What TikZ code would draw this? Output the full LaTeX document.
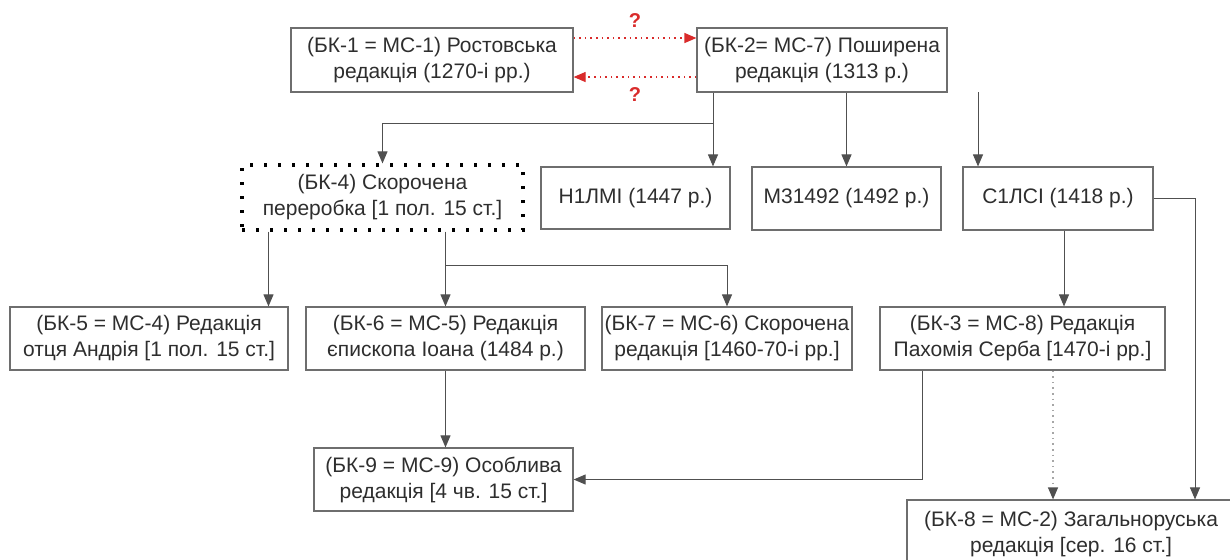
\documentclass[tikz,border=0pt]{standalone}
\usepackage{fontspec}
\setmainfont{Liberation Sans}
\usepackage{tikz}
\usetikzlibrary{arrows.meta,positioning,calc}
\definecolor{boxgrey}{HTML}{6E6E6E}
\definecolor{linegrey}{HTML}{505050}
\definecolor{txtgrey}{HTML}{2E2E2E}
\definecolor{askred}{HTML}{D92B2B}

\begin{document}
\begin{tikzpicture}[
  x=0.5pt, y=-0.5pt,
  redbox/.style={draw=boxgrey, line width=0.6pt, fill=white, align=center, inner sep=0pt,
                 text=txtgrey, font=\fontsize{10.5}{13}\selectfont},
  shortbox/.style={redbox, draw=black, line width=1.6pt, dash pattern=on 1.6pt off 5.4pt},
  arr/.style={-{Triangle[length=6pt, width=5pt]}, line width=0.5pt, draw=linegrey},
  doubtarr/.style={-{Triangle[length=6pt, width=5pt]}, line width=0.6pt, draw=askred,
                   dash pattern=on 0.8pt off 2pt},
  lostarr/.style={-{Triangle[length=6pt, width=5pt, color=linegrey]}, line width=0.6pt,
                  draw=gray!70, dash pattern=on 0.8pt off 2pt},
  askmark/.style={text=askred, font=\bfseries\fontsize{10}{12}\selectfont, inner sep=0pt}
]
  \useasboundingbox (0,0) rectangle (1230,559);

  % upper row
  \node[redbox, minimum width=141pt, minimum height=32pt] (bk1) at (432,60)
    {(БК-1 = МС-1) Ростовська\\редакція (1270-і рр.)};
  \node[redbox, minimum width=125pt, minimum height=32pt] (bk2) at (822,60)
    {(БК-2= МС-7) Поширена\\редакція (1313 р.)};

  % second row
  \node[shortbox, minimum width=140.5pt, minimum height=32.5pt] (bk4) at (382.5,197.5)
    {(БК-4) Скорочена\\переробка [1 пол. 15 ст.]};
  \node[redbox, minimum width=94.5pt, minimum height=31pt] (n1lmi) at (635.5,198) {Н1ЛМІ (1447 р.)};
  \node[redbox, minimum width=94.5pt, minimum height=31.5pt] (m31492) at (846.5,198.5) {М31492 (1492 р.)};
  \node[redbox, minimum width=95pt, minimum height=31.5pt] (s1lsi) at (1058,198.5) {С1ЛСІ (1418 р.)};

  % third row
  \node[redbox, minimum width=139pt, minimum height=31.5pt] (bk5) at (149,338.5)
    {(БК-5 = МС-4) Редакція\\отця Андрія [1 пол. 15 ст.]};
  \node[redbox, minimum width=139.5pt, minimum height=31.5pt] (bk6) at (445.5,338.5)
    {(БК-6 = МС-5) Редакція\\єпископа Іоана (1484 р.)};
  \node[redbox, minimum width=125pt, minimum height=31.5pt] (bk7) at (727,338.5)
    {(БК-7 = МС-6) Скорочена\\редакція [1460-70-і рр.]};
  \node[redbox, minimum width=142.5pt, minimum height=31.5pt] (bk3) at (1022.5,338.5)
    {(БК-3 = МС-8) Редакція\\Пахомія Серба [1470-і рр.]};

  % bottom
  \node[redbox, minimum width=129.5pt, minimum height=31.5pt] (bk9) at (443.5,479.5)
    {(БК-9 = МС-9) Особлива\\редакція [4 чв. 15 ст.]};
  \node[redbox, minimum width=164pt, minimum height=32pt, text depth=0pt] (bk8) at (1071,532)
    {(БК-8 = МС-2) Загальноруська\\редакція [сер. 16 ст.]};

  % bend points
  \coordinate (fork1) at (713,123);
  \coordinate (fork2) at (445.5,265);
  \coordinate (start2) at (978,92);

  % doubtful links
  \draw[doubtarr] ([yshift=11pt]bk1.east) -- node[askmark, above=5pt] {?} ([yshift=11pt]bk2.west);
  \draw[doubtarr] ([yshift=-8.5pt]bk2.west) -- node[askmark, below=5pt] {?} ([yshift=-8.5pt]bk1.east);

  % from БК-2
  \draw[arr] (bk2.south -| fork1) -- (n1lmi.north -| fork1);
  \draw[arr] (fork1) -| (bk4.north);
  \draw[arr] (bk2.south -| m31492.north) -- (m31492.north);
  \draw[arr] (start2) -- (start2 |- s1lsi.north);

  % from С1ЛСІ
  \draw[arr] ([xshift=3pt]s1lsi.south) -- ([xshift=3pt]s1lsi.south |- bk3.north);
  \draw[arr] (s1lsi.east) -| ([xshift=62pt]bk8.north);

  % from БК-4
  \draw[arr] ([xshift=59.75pt]bk5.north |- bk4.south) -- ([xshift=59.75pt]bk5.north);
  \draw[arr] (bk4.south -| bk6.north) -- (bk6.north);
  \draw[arr] (fork2) -| (bk7.north);

  % to БК-9 and БК-8
  \draw[arr] (bk6.south) -- (bk6.south |- bk9.north);
  \draw[arr] ([xshift=-50.25pt]bk3.south) |- (bk9.east);
  \draw[lostarr] ([xshift=15.25pt]bk3.south) -- ([xshift=15.25pt]bk3.south |- bk8.north);
\end{tikzpicture}
\end{document}
